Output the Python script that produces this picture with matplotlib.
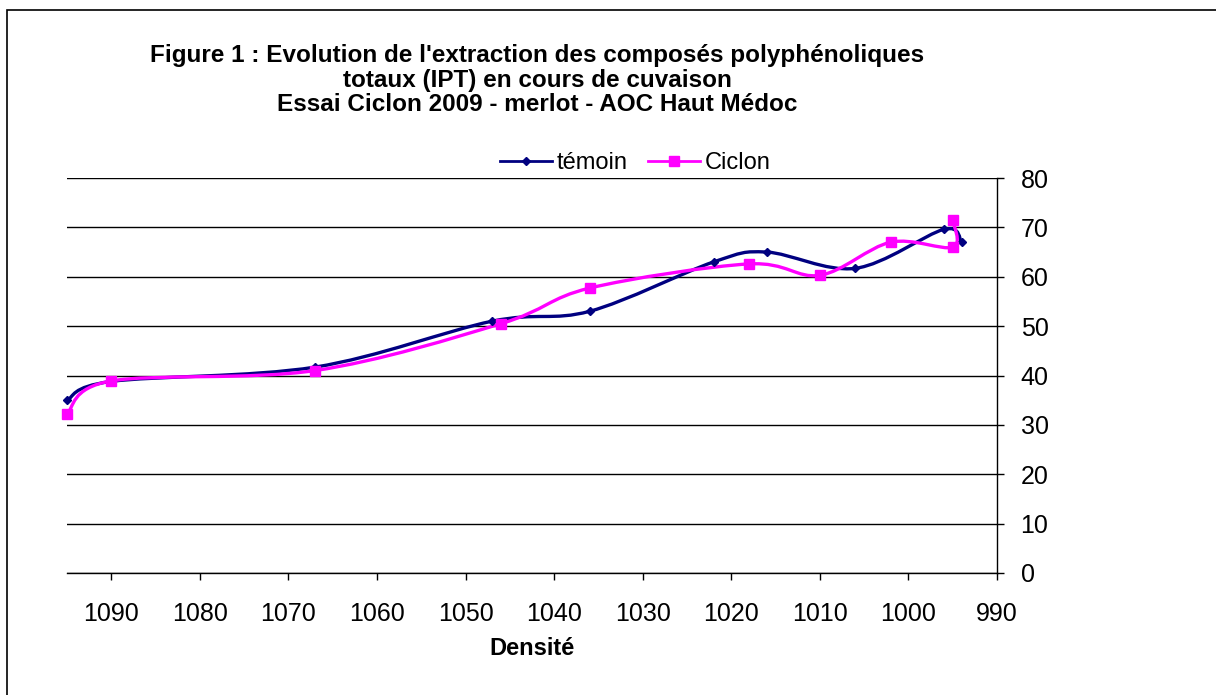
"""
Recreate: IPT extraction during maceration, Ciclon trial 2009 (merlot).
Output: out.png
"""
import matplotlib.pyplot as plt
from matplotlib.path import Path
from matplotlib.patches import PathPatch, Rectangle
from matplotlib.lines import Line2D

plt.rcParams["font.family"] = ["Liberation Sans", "DejaVu Sans"]

TITLE = ("Figure 1 : Evolution de l'extraction des composés polyphénoliques\n"
         "totaux (IPT) en cours de cuvaison\n"
         "Essai Ciclon 2009 - merlot - AOC Haut Médoc")

temoin_dens = [1095, 1090, 1067, 1047, 1036, 1022, 1016, 1006, 996, 994]
temoin_ipt = [35.0, 38.8, 41.7, 51.0, 53.0, 63.0, 65.0, 61.7, 69.6, 67.0]

ciclon_dens = [1095, 1090, 1067, 1046, 1036, 1018, 1010, 1002, 995, 995]
ciclon_ipt = [32.3, 38.9, 41.0, 50.5, 57.7, 62.6, 60.3, 67.0, 66.0, 71.5]

NAVY = "#000080"
MAGENTA = "#FF00FF"


def smooth_path(xs, ys):
    # Excel-style smoothed line: cubic Bezier segments (Catmull-Rom control points)
    pts = list(zip(xs, ys))
    verts = [pts[0]]
    codes = [Path.MOVETO]
    n = len(pts)
    for i in range(n - 1):
        p0 = pts[i - 1] if i > 0 else pts[i]
        p1 = pts[i]
        p2 = pts[i + 1]
        p3 = pts[i + 2] if i + 2 < n else pts[i + 1]
        c1 = (p1[0] + (p2[0] - p0[0]) / 6, p1[1] + (p2[1] - p0[1]) / 6)
        c2 = (p2[0] - (p3[0] - p1[0]) / 6, p2[1] - (p3[1] - p1[1]) / 6)
        verts += [c1, c2, p2]
        codes += [Path.CURVE4] * 3
    return Path(verts, codes)


def main():
    fig = plt.figure(figsize=(12.16, 6.95), dpi=100)
    ax = fig.add_axes([67 / 1216, 1 - 573 / 695, 930 / 1216, 395 / 695])

    # outer chart border (only top/left visible in the crop)
    fig.add_artist(Rectangle((7 / 1216, -0.1), 1.2, 1 - 10 / 695 + 0.1,
                             transform=fig.transFigure, fill=False,
                             edgecolor="black", lw=1.2))

    for xs, ys, col, mk, ms in [(temoin_dens, temoin_ipt, NAVY, "D", 4),
                                (ciclon_dens, ciclon_ipt, MAGENTA, "s", 6.5)]:
        ax.add_patch(PathPatch(smooth_path(xs, ys), fill=False, edgecolor=col,
                               lw=2.4, capstyle="round", joinstyle="round",
                               zorder=3))
        ax.plot(xs, ys, ls="none", marker=mk, ms=ms, color=col, zorder=4,
                clip_on=False)

    ax.set_xlim(1095, 990)
    ax.set_ylim(0, 80)
    ax.set_xticks(range(1090, 989, -10))
    ax.set_yticks(range(0, 81, 10))
    ax.yaxis.tick_right()
    ax.grid(axis="y", color="black", lw=1)
    ax.set_axisbelow(True)
    for s in ["top", "left"]:
        ax.spines[s].set_visible(False)
    ax.spines["right"].set_linewidth(1)
    ax.spines["bottom"].set_linewidth(1)
    ax.tick_params(axis="both", direction="out", length=5, width=1,
                   labelsize=18)
    ax.tick_params(axis="x", pad=16)
    ax.tick_params(axis="y", pad=12)
    ax.set_xlabel("Densité", fontsize=17, fontweight="bold", labelpad=8)

    fig.text(537 / 1216, 1 - 80 / 695, TITLE, ha="center", va="center",
             fontsize=17.5, fontweight="bold", linespacing=1.07)

    handles = [Line2D([], [], color=NAVY, lw=2, marker="D", ms=4.5),
               Line2D([], [], color=MAGENTA, lw=2, marker="s", ms=6.5)]
    fig.legend(handles, ["témoin", "Ciclon"], loc="center",
               bbox_to_anchor=(635 / 1216, 1 - 163 / 695), ncol=2,
               frameon=False, fontsize=17, handlelength=2.2,
               handletextpad=0.2, columnspacing=0.85, borderaxespad=0)

    fig.savefig("out.png", dpi=100)
    plt.close(fig)


if __name__ == "__main__":
    main()
